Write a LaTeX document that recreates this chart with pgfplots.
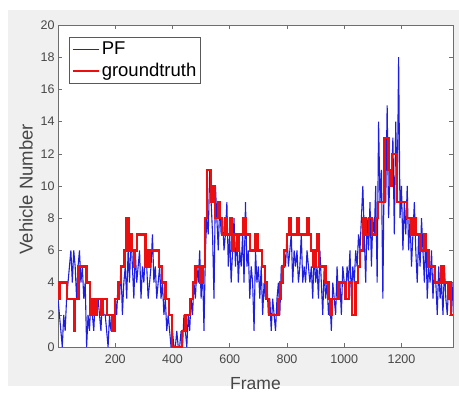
\documentclass[border=0pt]{standalone}
\usepackage{fontspec}
\setmainfont{Liberation Sans}
\usepackage{pgfplots}
\pgfplotsset{compat=1.18}
\definecolor{figgray}{RGB}{240,240,240}
\definecolor{pfblue}{RGB}{30,30,225}
\definecolor{gtred}{RGB}{235,15,15}
\definecolor{axgray}{RGB}{110,110,110}
\definecolor{txtgray}{RGB}{70,70,70}
\begin{document}
\begin{tikzpicture}
\useasboundingbox (0,0) rectangle (459pt,392pt);
\fill[white] (0,0) rectangle (459pt,392pt);
\fill[figgray] (8pt,6pt) rectangle (459pt,382pt);
\begin{axis}[
  at={(58pt,45pt)}, anchor=south west,
  scale only axis, width=395pt, height=322pt,
  xmin=0, xmax=1380, ymin=0, ymax=20,
  xtick={200,400,...,1200}, ytick={0,2,...,20},
  tick pos=both, xticklabel pos=left, yticklabel pos=left,
  tick align=inside, major tick length=4pt,
  axis background/.style={fill=white},
  axis line style={axgray, line width=0.7pt},
  tick style={axgray, line width=0.6pt},
  /pgf/number format/assume math mode=true,
  /pgf/number format/1000 sep={},
  ticklabel style={font=\fontsize{12.5}{14}\selectfont, text=txtgray},
  xticklabel style={yshift=-4pt},
  xlabel={Frame}, ylabel={Vehicle Number},
  xlabel style={at={(axis description cs:0.5,-0.112)}, anchor=center, font=\fontsize{17.5}{20}\selectfont, text=txtgray},
  ylabel style={at={(axis description cs:-0.081,0.49)}, anchor=center, rotate=0, font=\fontsize{18.5}{20}\selectfont, text=txtgray},
  legend style={at={(0.028,0.963)}, anchor=north west, draw=black!65, line width=0.6pt,
    font=\fontsize{18.5}{21}\selectfont, fill=white, inner xsep=2pt, inner ysep=3pt,
    row sep=3pt, cells={anchor=west}},
  legend image code/.code={\draw[#1] (0pt,0pt) -- (26pt,0pt);},
]
\addplot[pfblue, line width=1.1pt] coordinates {
(0,3)(5,2)(10,1)(15,0)(20,2)(25,1)(30,3)(35,4)(40,5)(45,6)(50,4)(55,6)(60,5)(65,3)(70,5)(75,6)(80,4)(85,5)(90,3)(95,4)
(100,0)(105,2)(110,1)(115,3)(120,2)(125,1)(130,3)(135,2)(140,3)(145,2)(150,1)(155,3)(160,2)(165,2)(170,1)(175,0)(180,2)(185,1)(190,2)(195,1)
(200,3)(205,2)(210,4)(215,3)(220,5)(225,2)(230,4)(235,5)(240,3)(245,6)(250,4)(255,7)(260,5)(265,3)(270,6)(275,4)(280,5)(285,6)(290,3)(295,5)
(300,4)(305,6)(310,5)(315,3)(320,4)(325,5)(330,7)(335,4)(340,5)(345,3)(350,4)(355,5)(360,3)(365,4)(370,2)(375,3)(380,1)(385,2)(390,1)(395,0)
(400,1)(405,0)(410,0)(415,1)(420,0)(425,0)(430,1)(435,0)(440,2)(445,1)(450,0)(455,2)(460,1)(465,3)(470,2)(475,4)(480,3)(485,5)(490,4)(495,6)
(500,3)(505,5)(510,1)(515,6)(520,8)(525,7)(530,11)(535,9)(540,7)(545,3)(550,10)(555,8)(560,6)(565,9)(570,7)(575,8)(580,6)(585,7)(590,9)(595,5)
(600,7)(605,4)(610,6)(615,8)(620,5)(625,7)(630,4)(635,6)(640,5)(645,7)(650,4)(655,9)(660,5)(665,6)(670,3)(675,5)(680,4)(685,1)(690,6)(695,4)
(700,5)(705,3)(710,5)(715,2)(720,4)(725,3)(730,4)(735,2)(740,3)(745,1)(750,3)(755,2)(760,1)(765,3)(770,4)(775,2)(780,5)(785,4)(790,6)(795,5)
(800,7)(805,5)(810,6)(815,7)(820,4)(825,6)(830,5)(835,6)(840,4)(845,5)(850,7)(855,4)(860,5)(865,4)(870,6)(875,5)(880,4)(885,5)(890,3)(895,6)
(900,4)(905,5)(910,3)(915,6)(920,4)(925,2)(930,5)(935,3)(940,4)(945,2)(950,3)(955,1)(960,4)(965,3)(970,2)(975,5)(980,3)(985,4)(990,2)(995,5)
(1000,4)(1005,3)(1010,5)(1015,4)(1020,6)(1025,3)(1030,5)(1035,4)(1040,6)(1045,5)(1050,7)(1055,6)(1060,8)(1065,10)(1070,7)(1075,4)(1080,8)(1085,6)(1090,9)(1095,5)
(1100,8)(1105,7)(1110,10)(1115,4)(1120,14)(1125,9)(1130,11)(1135,3)(1140,12)(1145,9)(1150,15)(1155,8)(1160,11)(1165,10)(1170,13)(1175,7)(1180,14)(1185,9)(1190,18)(1195,8)
(1200,10)(1205,6)(1210,9)(1215,7)(1220,10)(1225,6)(1230,8)(1235,5)(1240,7)(1245,9)(1250,6)(1255,4)(1260,7)(1265,5)(1270,8)(1275,6)(1280,4)(1285,7)(1290,3)(1295,5)
(1300,4)(1305,6)(1310,3)(1315,5)(1320,4)(1325,2)(1330,5)(1335,3)(1340,4)(1345,2)(1350,5)(1355,3)(1360,2)(1365,4)(1370,3)(1375,2)(1380,4)
};
\addlegendentry{PF}
\addplot[gtred, line width=2.4pt, const plot] coordinates {
(0,3)(5,4)(32,3)(55,1)(60,3)(72,5)(99,4)(111,2)(120,3)(128,2)(136,3)(150,2)(158,3)(171,2)(190,1)(200,3)(212,4)(220,5)
(232,6)(240,8)(247,6)(252,7)(258,6)(265,5)(270,6)(276,7)(305,5)(312,6)(318,5)(322,6)(352,5)(364,4)(375,3)(387,2)(399,0)
(434,1)(445,2)(462,3)(472,4)(480,5)(498,4)(506,5)(514,8)(520,11)(535,9)(540,10)(548,8)(560,9)(565,8)(572,7)(585,8)(590,7)
(600,8)(607,6)(615,7)(625,6)(632,7)(648,8)(656,7)(671,6)(690,7)(697,6)(712,5)(723,4)(729,3)(738,2)(770,3)(778,4)(785,5)
(790,6)(800,7)(806,8)(812,7)(834,8)(840,7)(869,8)(876,7)(884,6)(892,5)(899,6)(906,7)(911,5)(934,4)(945,3)(951,2)(958,3)
(980,4)(1005,3)(1016,4)(1027,2)(1039,4)(1048,5)(1056,6)(1066,8)(1074,7)(1086,8)(1097,7)(1110,8)(1118,9)(1140,13)(1155,11)
(1160,10)(1167,12)(1184,9)(1220,8)(1235,7)(1243,8)(1250,7)(1266,6)(1280,7)(1285,6)(1295,5)(1318,4)(1340,5)(1348,4)
(1362,3)(1368,4)(1374,2)(1380,2)
};
\addlegendentry{groundtruth}
\end{axis}
\end{tikzpicture}
\end{document}
